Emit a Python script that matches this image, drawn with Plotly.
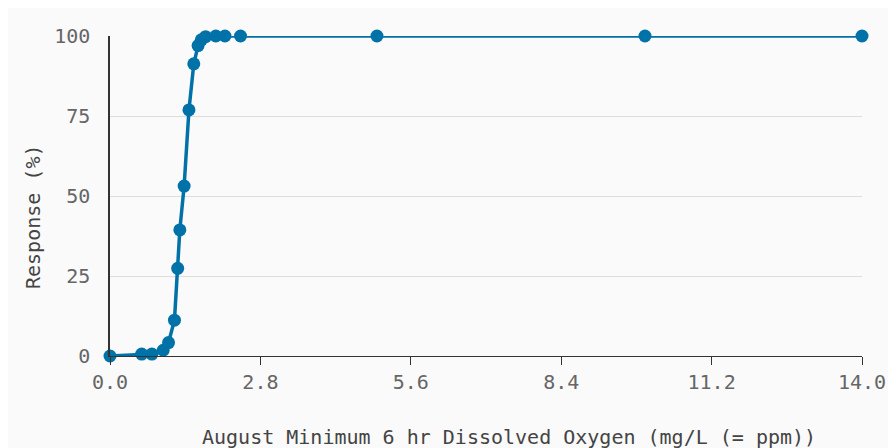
import plotly.graph_objects as go

# Data
dissolved_oxygen = [0.0, 0.59, 0.78, 0.99, 1.09, 1.20, 1.26, 1.30, 1.38, 1.47,
                    1.56, 1.64, 1.70, 1.78, 1.97, 2.14, 2.43, 4.97, 9.96, 14.0]
response_pct = [0.0, 0.6, 0.6, 1.8, 4.2, 11.2, 27.4, 39.4, 53.1, 76.9,
                91.3, 97.0, 98.8, 99.8, 100, 100, 100, 100, 100, 100]

x_tick_vals = [0.0, 2.8, 5.6, 8.4, 11.2, 14.0]
x_tick_text = ["0.0", "2.8", "5.6", "8.4", "11.2", "14.0"]
y_tick_vals = [0, 25, 50, 75, 100]
y_tick_text = ["0", "25", "50", "75", "100"]

x_title = "August Minimum 6 hr Dissolved Oxygen (mg/L (= ppm))"
y_title = "Response (%)"

FONT = "DejaVu Sans Mono"
TEXT_COLOR = "#666666"
LINE_COLOR = "#0072a8"
BG = "#fafafa"

fig = go.Figure()
fig.add_trace(go.Scatter(
    x=dissolved_oxygen, y=response_pct,
    mode="lines+markers",
    line=dict(color=LINE_COLOR, width=3.5),
    marker=dict(color=LINE_COLOR, size=13, symbol="circle"),
    cliponaxis=False,
    hoverinfo="x+y",
))

fig.update_layout(
    width=896, height=448,
    margin=dict(l=102, r=42, t=28, b=100),
    paper_bgcolor=BG, plot_bgcolor=BG,
    showlegend=False,
    font=dict(family=FONT, size=20, color=TEXT_COLOR),
    xaxis=dict(
        range=[0, 14], tickmode="array",
        tickvals=x_tick_vals, ticktext=x_tick_text,
        showgrid=False, zeroline=False,
        showline=True, linecolor="#333333", linewidth=1,
        ticks="outside", ticklen=8, tickcolor="#333333", tickwidth=1,
        tickfont=dict(family=FONT, size=20, color=TEXT_COLOR),
    ),
    yaxis=dict(
        range=[0, 100], tickmode="array",
        tickvals=y_tick_vals, ticktext=y_tick_text,
        showgrid=True, gridcolor="#dddddd", gridwidth=1,
        zeroline=False,
        showline=True, linecolor="#333333", linewidth=1.5,
        ticks="", ticklabelstandoff=14,
        tickfont=dict(family=FONT, size=20, color=TEXT_COLOR),
    ),
    annotations=[
        dict(text=x_title, xref="paper", yref="paper",
             x=(509 - 110) / 752, y=(356 - 437) / 320,
             xanchor="center", yanchor="middle", showarrow=False,
             font=dict(family=FONT, size=20, color="#444444")),
        dict(text=y_title, xref="paper", yref="paper",
             x=(33 - 110) / 752, y=(356 - 217) / 320, textangle=-90,
             xanchor="center", yanchor="middle", showarrow=False,
             font=dict(family=FONT, size=20, color="#444444")),
    ],
)

fig.write_html("out.html")
